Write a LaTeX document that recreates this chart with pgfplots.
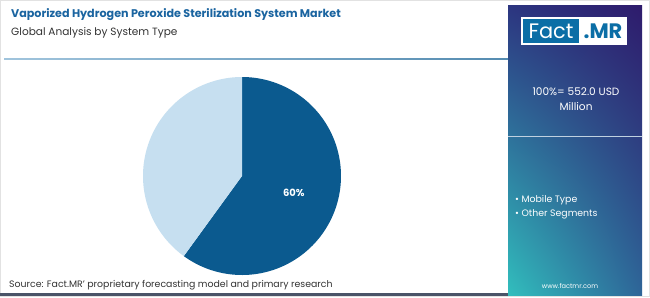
\documentclass[border=0pt]{standalone}
\usepackage{pgfplots}
\pgfplotsset{compat=1.18}
\usepackage{pgfplotstable}
\usetikzlibrary{shadings}
\usepackage{fontspec}
\setmainfont{Poppins}
\definecolor{titleblue}{HTML}{1A64A0}
\definecolor{subgray}{HTML}{333333}
\definecolor{piedark}{HTML}{0B5A8F}
\definecolor{pielight}{HTML}{C6DFF0}
\definecolor{pUL}{HTML}{2C3580}
\definecolor{pUR}{HTML}{2E1B6C}
\definecolor{pLL}{HTML}{31BEBD}
\definecolor{pLR}{HTML}{2E6598}
\definecolor{logoblue}{HTML}{0B6EA6}
\definecolor{linegray}{HTML}{4A5468}
\definecolor{frame}{HTML}{E2E2E2}
\pgfplotstableread{
label value
Mobile 60
Other 40
}\piedata
\pgfplotstablegetelem{0}{value}\of\piedata
\pgfmathsetmacro{\va}{\pgfplotsretval}
\pgfmathsetmacro{\aend}{90-3.6*\va}
\pgfmathsetmacro{\amid}{90-1.8*\va}
\pgfmathsetmacro{\lx}{0.55*cos(\amid)}
\pgfmathsetmacro{\ly}{0.55*sin(\amid)}
\pgfmathtruncatemacro{\vlab}{\va}
\begin{document}
\begin{tikzpicture}[x=1bp,y=-1bp]
% background
\fill[white] (0,0) rectangle (650,297);
\draw[frame,line width=0.8bp] (0.5,0.5) rectangle (649.5,296.5);
% title
\node[anchor=west,inner sep=0,font=\fontsize{11.2}{13}\selectfont\bfseries,text=titleblue] at (11,15) {Vaporized Hydrogen Peroxide Sterilization System Market};
\node[anchor=west,inner sep=0,font=\fontsize{10.6}{12}\selectfont,text=subgray] at (11,33) {Global Analysis by System Type};
% top rule
\shade[left color=pielight!80!piedark, right color=piedark!70!white] (4,58.3) rectangle (510,59.8);
% source
\node[anchor=west,inner sep=0,font=\fontsize{9.4}{11}\selectfont,text=subgray] at (9,285) {Source: Fact.MR' proprietary forecasting model and primary research};
\fill[linegray] (0,292.5) rectangle (508,295.5);
% right panel
\shade[upper left=pUL, upper right=pUR, lower left=pLL, lower right=pLR] (508,5) rectangle (642,295);
\fill[white!70!pLR] (508,136) rectangle (642,137.2);
% logo
\fill[white] (521,17) rectangle (627,45);
\fill[logoblue] (523,19) rectangle (579,43);
\node[anchor=center,inner sep=0,font=\fontsize{21}{23}\selectfont,text=white] at (551,31.5) {Fact};
\node[anchor=center,inner sep=0,font=\fontsize{21}{23}\selectfont\bfseries,text=logoblue] at (603,31.5) {.MR};
\node[anchor=center,inner sep=0,font=\fontsize{10.6}{12}\selectfont,text=white,align=center] at (576,92) {100\%= 552.0 USD};
\node[anchor=center,inner sep=0,font=\fontsize{10.6}{12}\selectfont,text=white] at (576,107) {Million};
\node[anchor=west,inner sep=0,font=\fontsize{9.4}{11}\selectfont,text=white] at (515,200.5) {\textbullet\ Mobile Type};
\node[anchor=west,inner sep=0,font=\fontsize{9.4}{11}\selectfont,text=white] at (515,214) {\textbullet\ Other Segments};
\node[anchor=center,inner sep=0,font=\fontsize{6.6}{8}\selectfont,text=white] at (570,286) {www.factmr.com};
% pie
\begin{axis}[at={(242bp,-176bp)}, anchor=center, width=198bp, height=198bp, scale only axis,
  xmin=-1, xmax=1, ymin=-1, ymax=1, hide axis, clip=false]
\addplot[fill=piedark, draw=none, domain=\aend:90, samples=120, variable=\t] ({cos(t)},{sin(t)}) -- (axis cs:0,0) -- cycle;
\addplot[fill=pielight, draw=none, domain=-270:\aend, samples=100, variable=\t] ({cos(t)},{sin(t)}) -- (axis cs:0,0) -- cycle;
\node[text=white,font=\fontsize{10}{12}\selectfont\bfseries] at (axis cs:\lx,\ly) {\vlab\%};
\end{axis}
\end{tikzpicture}
\end{document}
